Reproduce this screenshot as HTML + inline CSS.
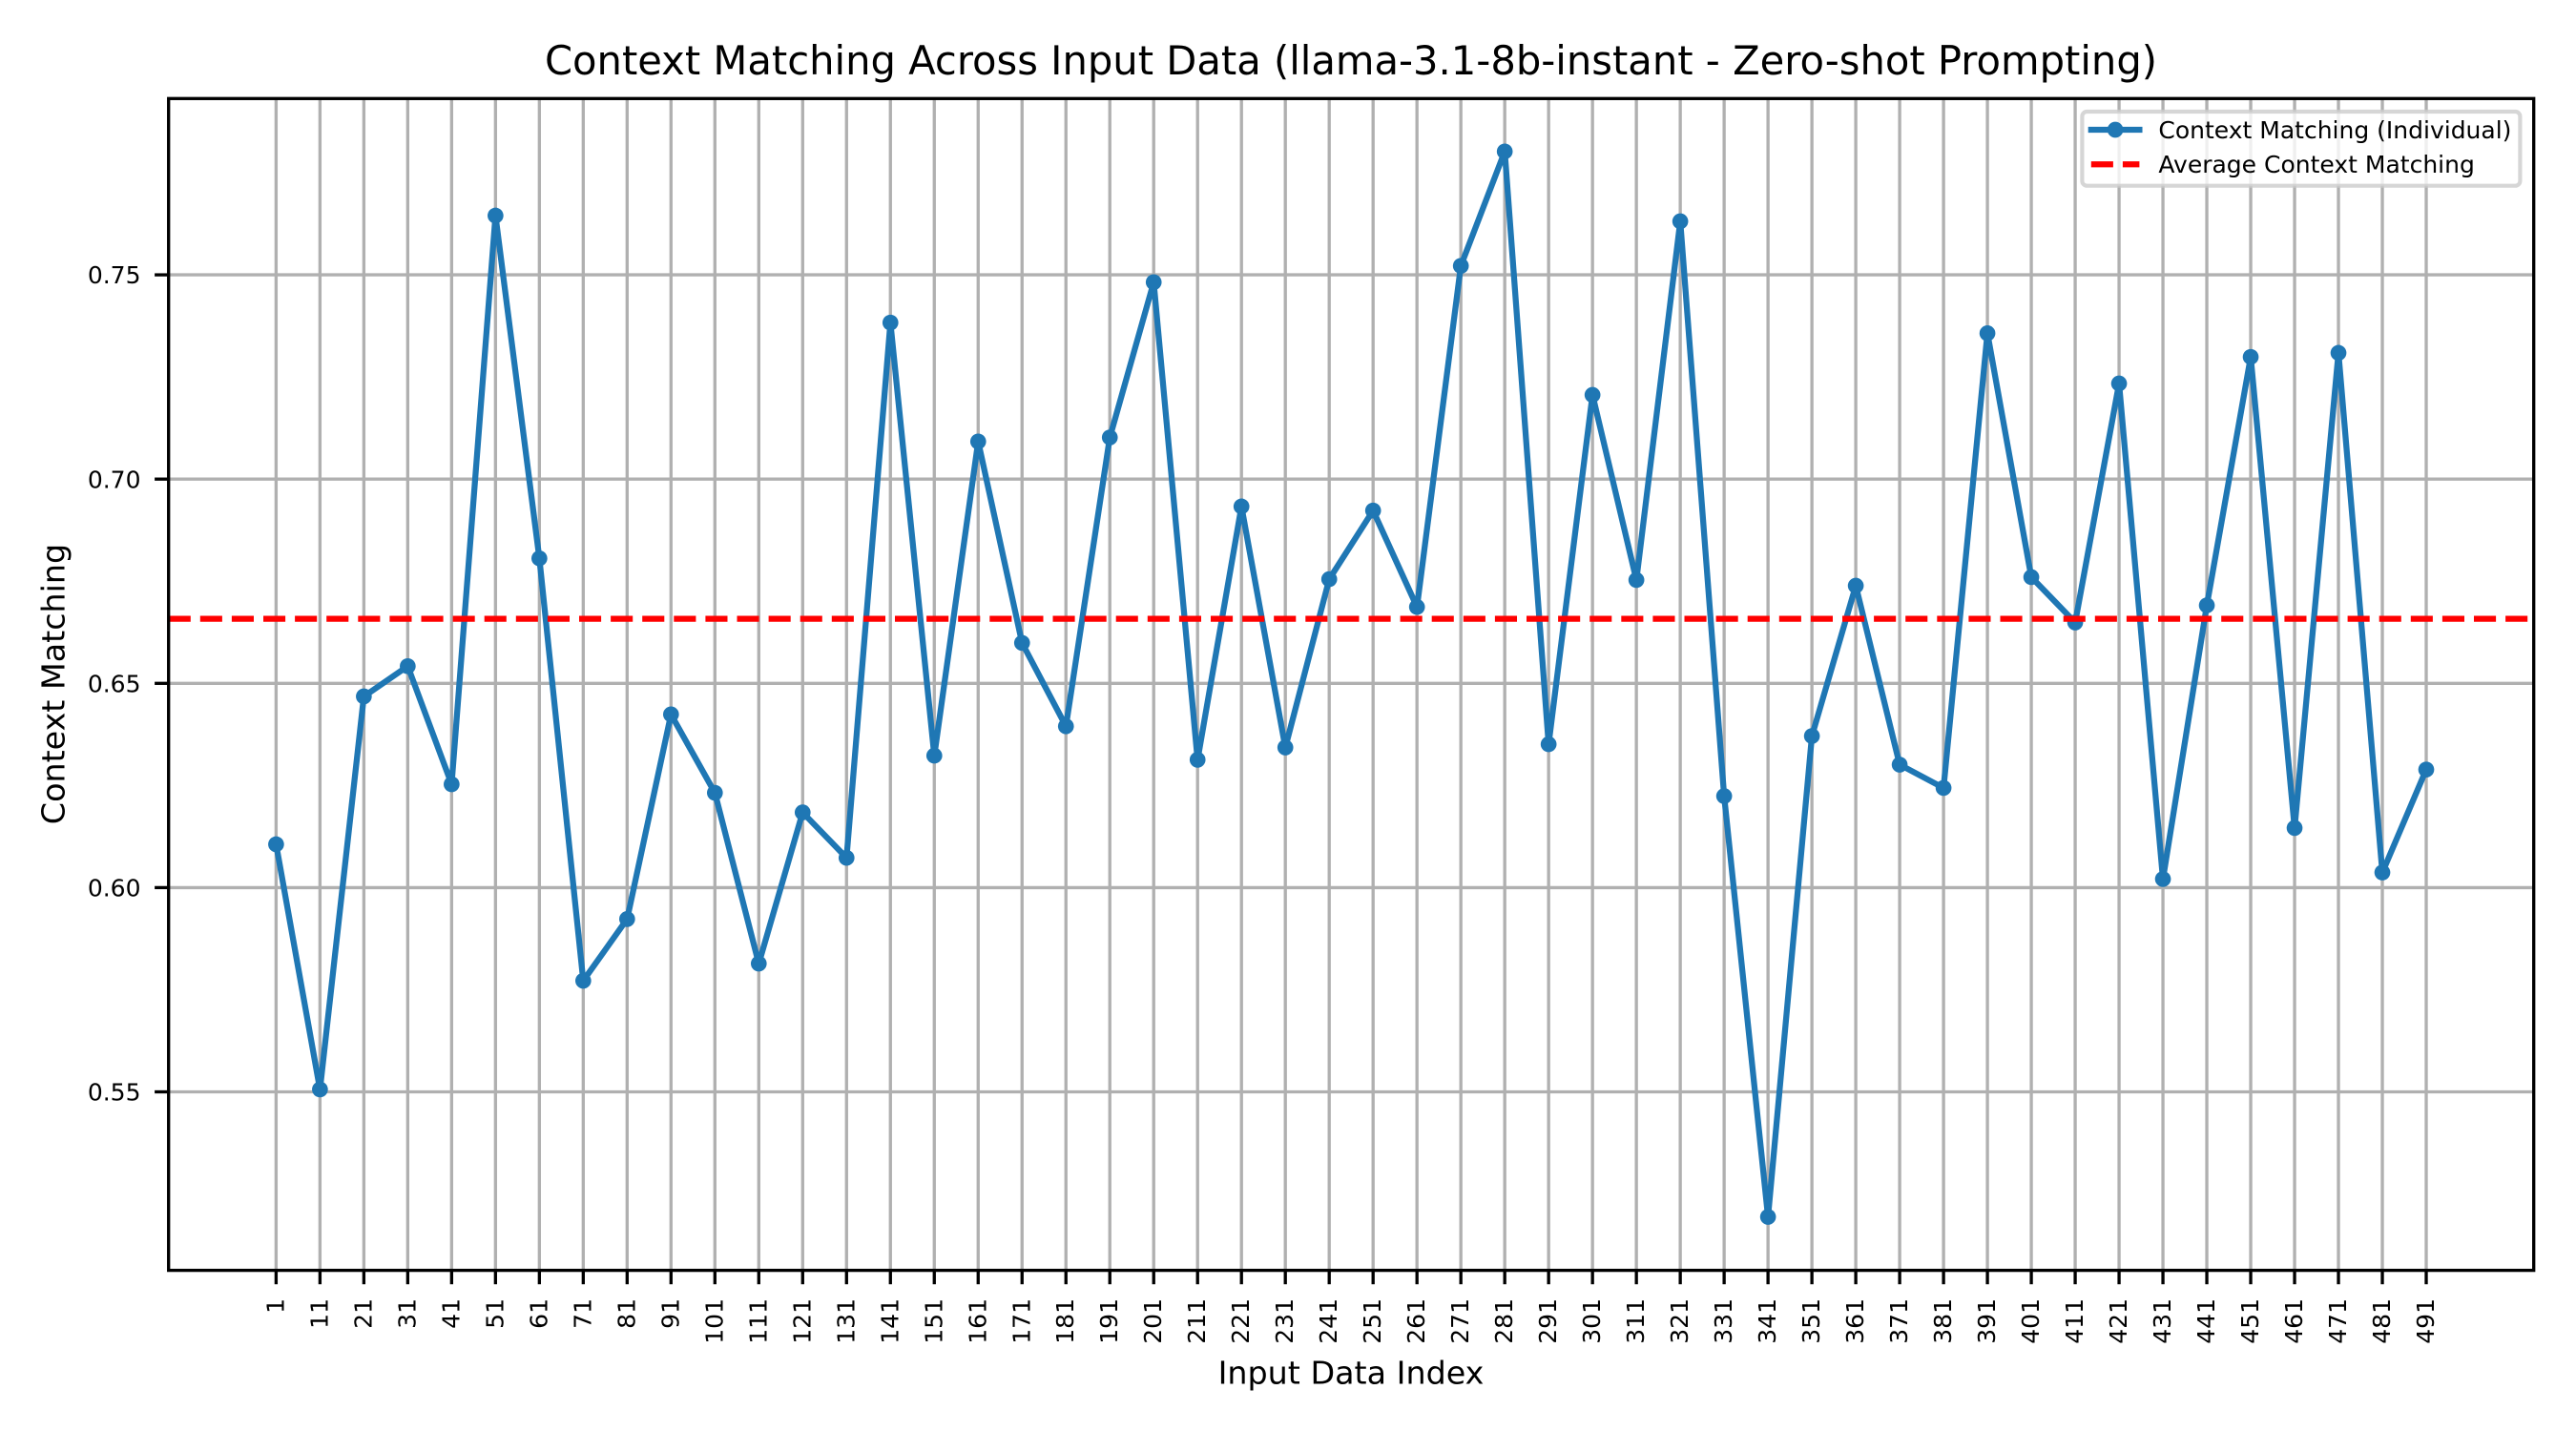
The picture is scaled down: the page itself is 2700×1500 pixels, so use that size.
<!DOCTYPE html>
<html lang="en">
<head>
<meta charset="utf-8">
<title>Context Matching Across Input Data</title>
<style>
  html, body { margin: 0; padding: 0; background: #fff; }
  #chart { display: block; }
  text { font-family: "DejaVu Sans", "Liberation Sans", sans-serif; fill: #000; }
</style>
</head>
<body>
<svg id="chart" xmlns="http://www.w3.org/2000/svg" width="2700" height="1500" viewBox="0 0 2700 1500">
  <rect x="0" y="0" width="2700" height="1500" fill="#ffffff"/>
  <text x="1416" y="78" font-size="41.67" text-anchor="middle">Context Matching Across Input Data (llama-3.1-8b-instant - Zero-shot Prompting)</text>
  <g id="grid"></g>
  <g id="series"></g>
  <rect x="176.7" y="103.3" width="2479" height="1228.3" fill="none" stroke="#000" stroke-width="3.33"/>
  <g id="ticks"></g>
  <text x="1416" y="1450.7" font-size="33.33" text-anchor="middle">Input Data Index</text>
  <text transform="translate(67.7 717) rotate(-90)" font-size="33.33" text-anchor="middle">Context Matching</text>
  <g>
    <rect x="2182.4" y="117" width="459" height="77.7" rx="5" ry="5" fill="rgba(255,255,255,0.8)" stroke="rgba(204,204,204,0.8)" stroke-width="4.17"/>
    <line x1="2191.8" y1="136" x2="2242.4" y2="136" stroke="#1f77b4" stroke-width="6.25" stroke-linecap="square"/>
    <circle cx="2217.1" cy="136" r="8.33" fill="#1f77b4"/>
    <text x="2262.4" y="145" font-size="25">Context Matching (Individual)</text>
    <line x1="2191.8" y1="172.3" x2="2242.4" y2="172.3" stroke="#ff0000" stroke-width="6.25" stroke-dasharray="23.1 10"/>
    <text x="2262.4" y="181" font-size="25">Average Context Matching</text>
  </g>
</svg>
<script>
const categories = [1,11,21,31,41,51,61,71,81,91,101,111,121,131,141,151,161,171,181,191,201,211,221,231,241,251,261,271,281,291,301,311,321,331,341,351,361,371,381,391,401,411,421,431,441,451,461,471,481,491];
const individualValues = [0.6106,0.5506,0.6468,0.6542,0.6253,0.7645,0.6806,0.5772,0.5923,0.6424,0.6232,0.5814,0.6184,0.6073,0.7383,0.6323,0.7092,0.6599,0.6395,0.7102,0.7482,0.6313,0.6933,0.6343,0.6755,0.6923,0.6687,0.7522,0.7802,0.6351,0.7206,0.6753,0.7631,0.6224,0.5194,0.6371,0.6739,0.6301,0.6244,0.7357,0.6760,0.6649,0.7234,0.6021,0.6691,0.7299,0.6146,0.7309,0.6037,0.6289];
const averageValue = [0.6658];
const yTicks = [0.55,0.60,0.65,0.70,0.75];

const NS = 'http://www.w3.org/2000/svg';
const plotLeft = 176.7, plotRight = 2655.7, plotTop = 103.3, plotBottom = 1331.6;
const xDomain = [categories[0] - 24.5, categories[categories.length - 1] + 24.5];
const xScale = v => plotLeft + (v - xDomain[0]) / (xDomain[1] - xDomain[0]) * (plotRight - plotLeft);
const yScale = v => 288.1 + (0.75 - v) * 4282;

const gridG = document.getElementById('grid');
const seriesG = document.getElementById('series');
const ticksG = document.getElementById('ticks');

function mk(tag, attrs, parent) {
  const el = document.createElementNS(NS, tag);
  for (const k in attrs) el.setAttribute(k, attrs[k]);
  parent.appendChild(el);
  return el;
}

categories.forEach(function (c) {
  const x = xScale(c);
  const g = mk('line', { x1: x, y1: plotTop, x2: x, y2: plotBottom, stroke: '#b0b0b0', 'stroke-width': 3.33 }, gridG);
  
  
  const t = mk('line', { x1: x, y1: plotBottom, x2: x, y2: plotBottom + 14.6, stroke: '#000', 'stroke-width': 3.33 }, ticksG);
  
  
  const l = mk('text', { transform: 'translate(' + (x + 8) + ' 1361) rotate(-90)', 'font-size': 25, 'text-anchor': 'end' }, ticksG);
  l.textContent = String(c);
  
  
});

yTicks.forEach(function (v) {
  const y = yScale(v);
  const g = mk('line', { x1: plotLeft, y1: y, x2: plotRight, y2: y, stroke: '#b0b0b0', 'stroke-width': 3.33 }, gridG);
  
  
  const t = mk('line', { x1: plotLeft - 14.6, y1: y, x2: plotLeft, y2: y, stroke: '#000', 'stroke-width': 3.33 }, ticksG);
  
  
  const l = mk('text', { x: plotLeft - 29.2, y: y + 9.1, 'font-size': 25, 'text-anchor': 'end' }, ticksG);
  l.textContent = v.toFixed(2);
  
  
});

const pts = categories.map(function (c, i) { return xScale(c) + ',' + yScale(individualValues[i]); }).join(' ');
const line = mk('polyline', { points: pts, fill: 'none', stroke: '#1f77b4', 'stroke-width': 6.25, 'stroke-linejoin': 'round', 'stroke-linecap': 'square' }, seriesG);



categories.forEach(function (c, i) {
  const p = mk('circle', { cx: xScale(c), cy: yScale(individualValues[i]), r: 8.33, fill: '#1f77b4' }, seriesG);
  
  
});

const avgY = yScale(averageValue[0]);
const avg = mk('line', { x1: plotLeft, y1: avgY, x2: plotRight, y2: avgY, stroke: '#ff0000', 'stroke-width': 6.25, 'stroke-dasharray': '23.1 10' }, seriesG);


</script>
</body>
</html>
